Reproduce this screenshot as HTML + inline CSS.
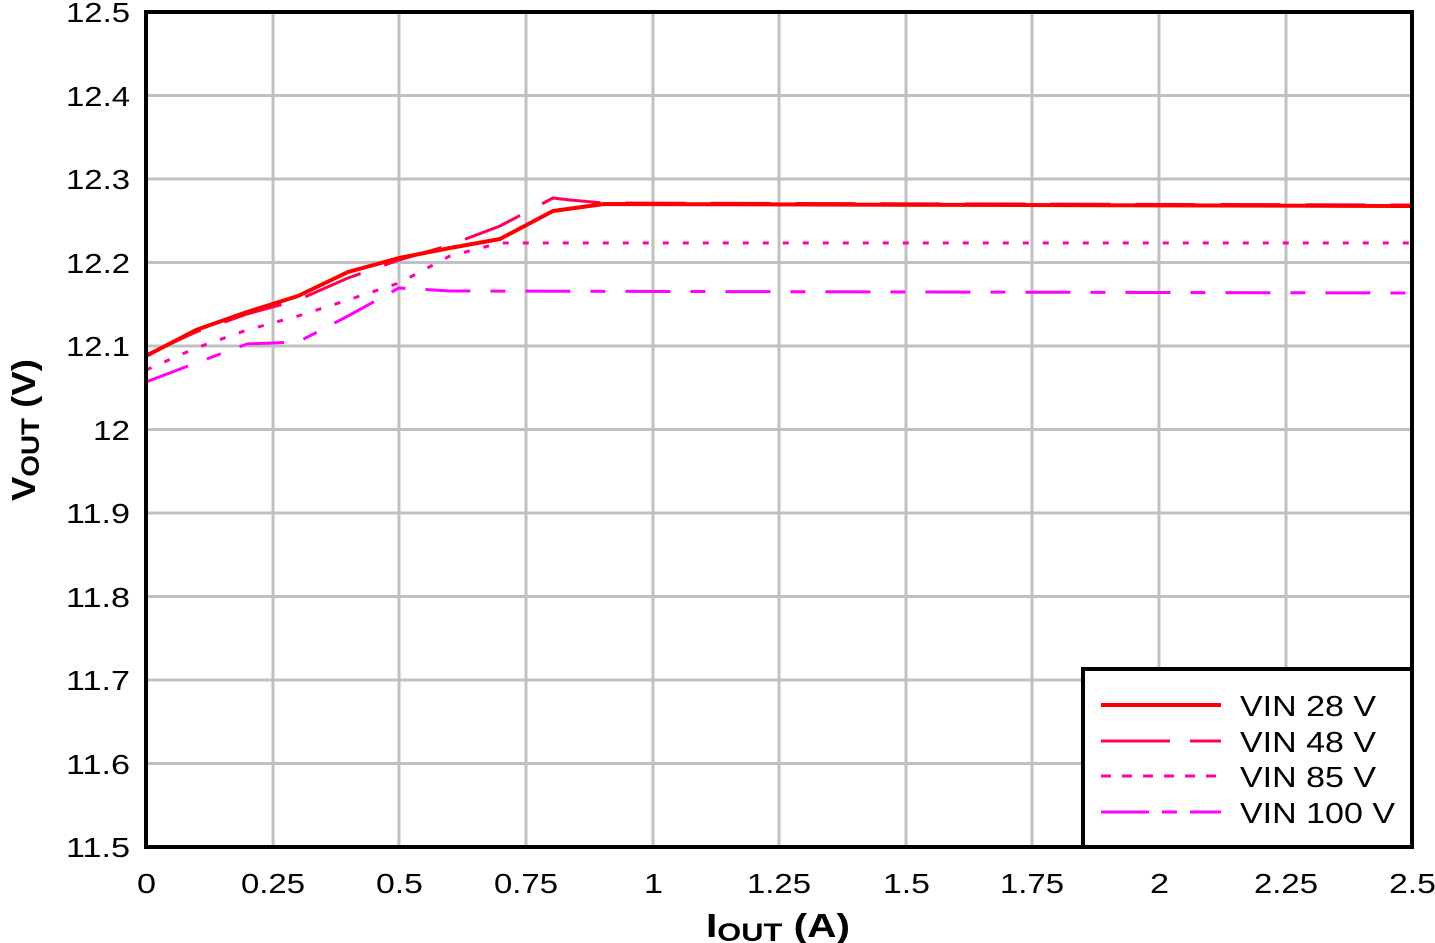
<!DOCTYPE html>
<html><head><meta charset="utf-8"><style>
html,body{margin:0;padding:0;background:#fff;}
svg{display:block;font-family:"Liberation Sans",Arial,sans-serif;}
</style></head><body>
<svg width="1435" height="943" viewBox="0 0 1435 943" xmlns="http://www.w3.org/2000/svg">
<rect width="1435" height="943" fill="#fff"/>
<g stroke="#c0c0c0" stroke-width="3">
<line x1="273" y1="12" x2="273" y2="847"/><line x1="399" y1="12" x2="399" y2="847"/>
<line x1="526" y1="12" x2="526" y2="847"/><line x1="653" y1="12" x2="653" y2="847"/>
<line x1="779" y1="12" x2="779" y2="847"/><line x1="906" y1="12" x2="906" y2="847"/>
<line x1="1032" y1="12" x2="1032" y2="847"/><line x1="1159" y1="12" x2="1159" y2="847"/>
<line x1="1286" y1="12" x2="1286" y2="847"/>
<line x1="146" y1="95.5" x2="1412" y2="95.5"/><line x1="146" y1="179" x2="1412" y2="179"/>
<line x1="146" y1="262.5" x2="1412" y2="262.5"/><line x1="146" y1="346" x2="1412" y2="346"/>
<line x1="146" y1="429.5" x2="1412" y2="429.5"/><line x1="146" y1="513" x2="1412" y2="513"/>
<line x1="146" y1="596.5" x2="1412" y2="596.5"/><line x1="146" y1="680" x2="1412" y2="680"/>
<line x1="146" y1="763.5" x2="1412" y2="763.5"/>
</g>
<g fill="none" stroke-linejoin="round">
<polyline stroke="#ff00ff" stroke-width="3" stroke-dasharray="45,20,15,20" points="146,382 196,363 247,344 298,342 348,316 399,288 450,291 1412,293"/>
<polyline stroke="#ff00aa" stroke-width="3" stroke-dasharray="6,14" points="146,370 196,348 247,330 298,316 348,300 399,283 450,256 500,243 550,243 1412,243"/>
<polyline stroke="#ff0055" stroke-width="3" stroke-dasharray="60,25" points="146,355 196,332 247,314 298,300 348,278 399,260 450,245 500,226 553,198 570,200 604,203 1412,205"/>
<polyline stroke="#ff0000" stroke-width="4" points="146,356 196,330 247,312 298,296 348,272 399,258 450,248 500,239 553,211 604,204 1412,206"/>
</g>
<rect x="146" y="12" width="1266" height="835" fill="none" stroke="#000" stroke-width="4"/>
<rect x="1083" y="669" width="329" height="178" fill="#fff" stroke="#000" stroke-width="4"/>
<line x1="1101" y1="705" x2="1221" y2="705" stroke="#ff0000" stroke-width="4"/>
<line x1="1101" y1="741" x2="1221" y2="741" stroke="#ff0055" stroke-width="3" stroke-dasharray="69,20"/>
<line x1="1101" y1="776" x2="1221" y2="776" stroke="#ff00aa" stroke-width="3" stroke-dasharray="10,11"/>
<line x1="1101" y1="812" x2="1221" y2="812" stroke="#ff00ff" stroke-width="3" stroke-dasharray="48,13,15,13"/>
<g font-size="29" fill="#000" lengthAdjust="spacingAndGlyphs">
<text x="1240" y="716" textLength="136" lengthAdjust="spacingAndGlyphs">VIN 28 V</text>
<text x="1240" y="752" textLength="136" lengthAdjust="spacingAndGlyphs">VIN 48 V</text>
<text x="1240" y="787" textLength="136" lengthAdjust="spacingAndGlyphs">VIN 85 V</text>
<text x="1240" y="823" textLength="155" lengthAdjust="spacingAndGlyphs">VIN 100 V</text>
</g>
<g font-size="28" fill="#000">
<text x="66" y="22" textLength="64" lengthAdjust="spacingAndGlyphs">12.5</text>
<text x="66" y="106" textLength="64" lengthAdjust="spacingAndGlyphs">12.4</text>
<text x="66" y="189" textLength="64" lengthAdjust="spacingAndGlyphs">12.3</text>
<text x="66" y="273" textLength="64" lengthAdjust="spacingAndGlyphs">12.2</text>
<text x="66" y="356" textLength="64" lengthAdjust="spacingAndGlyphs">12.1</text>
<text x="93" y="440" textLength="37" lengthAdjust="spacingAndGlyphs">12</text>
<text x="66" y="523" textLength="64" lengthAdjust="spacingAndGlyphs">11.9</text>
<text x="66" y="607" textLength="64" lengthAdjust="spacingAndGlyphs">11.8</text>
<text x="66" y="690" textLength="64" lengthAdjust="spacingAndGlyphs">11.7</text>
<text x="66" y="774" textLength="64" lengthAdjust="spacingAndGlyphs">11.6</text>
<text x="66" y="857" textLength="64" lengthAdjust="spacingAndGlyphs">11.5</text>
</g>
<g font-size="28" fill="#000">
<text x="137" y="893" textLength="19" lengthAdjust="spacingAndGlyphs">0</text>
<text x="241" y="893" textLength="64" lengthAdjust="spacingAndGlyphs">0.25</text>
<text x="376" y="893" textLength="47" lengthAdjust="spacingAndGlyphs">0.5</text>
<text x="494" y="893" textLength="64" lengthAdjust="spacingAndGlyphs">0.75</text>
<text x="644" y="893" textLength="19" lengthAdjust="spacingAndGlyphs">1</text>
<text x="747" y="893" textLength="64" lengthAdjust="spacingAndGlyphs">1.25</text>
<text x="883" y="893" textLength="47" lengthAdjust="spacingAndGlyphs">1.5</text>
<text x="1000" y="893" textLength="64" lengthAdjust="spacingAndGlyphs">1.75</text>
<text x="1150" y="893" textLength="19" lengthAdjust="spacingAndGlyphs">2</text>
<text x="1254" y="893" textLength="64" lengthAdjust="spacingAndGlyphs">2.25</text>
<text x="1389" y="893" textLength="47" lengthAdjust="spacingAndGlyphs">2.5</text>
</g>
<text x="706" y="937" font-size="33" font-weight="bold" textLength="144" lengthAdjust="spacingAndGlyphs">I<tspan font-size="25" dy="4">OUT</tspan><tspan dy="-4"> (A)</tspan></text>
<text transform="translate(35,501) rotate(-90)" font-size="33" font-weight="bold" textLength="142" lengthAdjust="spacingAndGlyphs">V<tspan font-size="25" dy="4">OUT</tspan><tspan dy="-4"> (V)</tspan></text>
</svg>
</body></html>
